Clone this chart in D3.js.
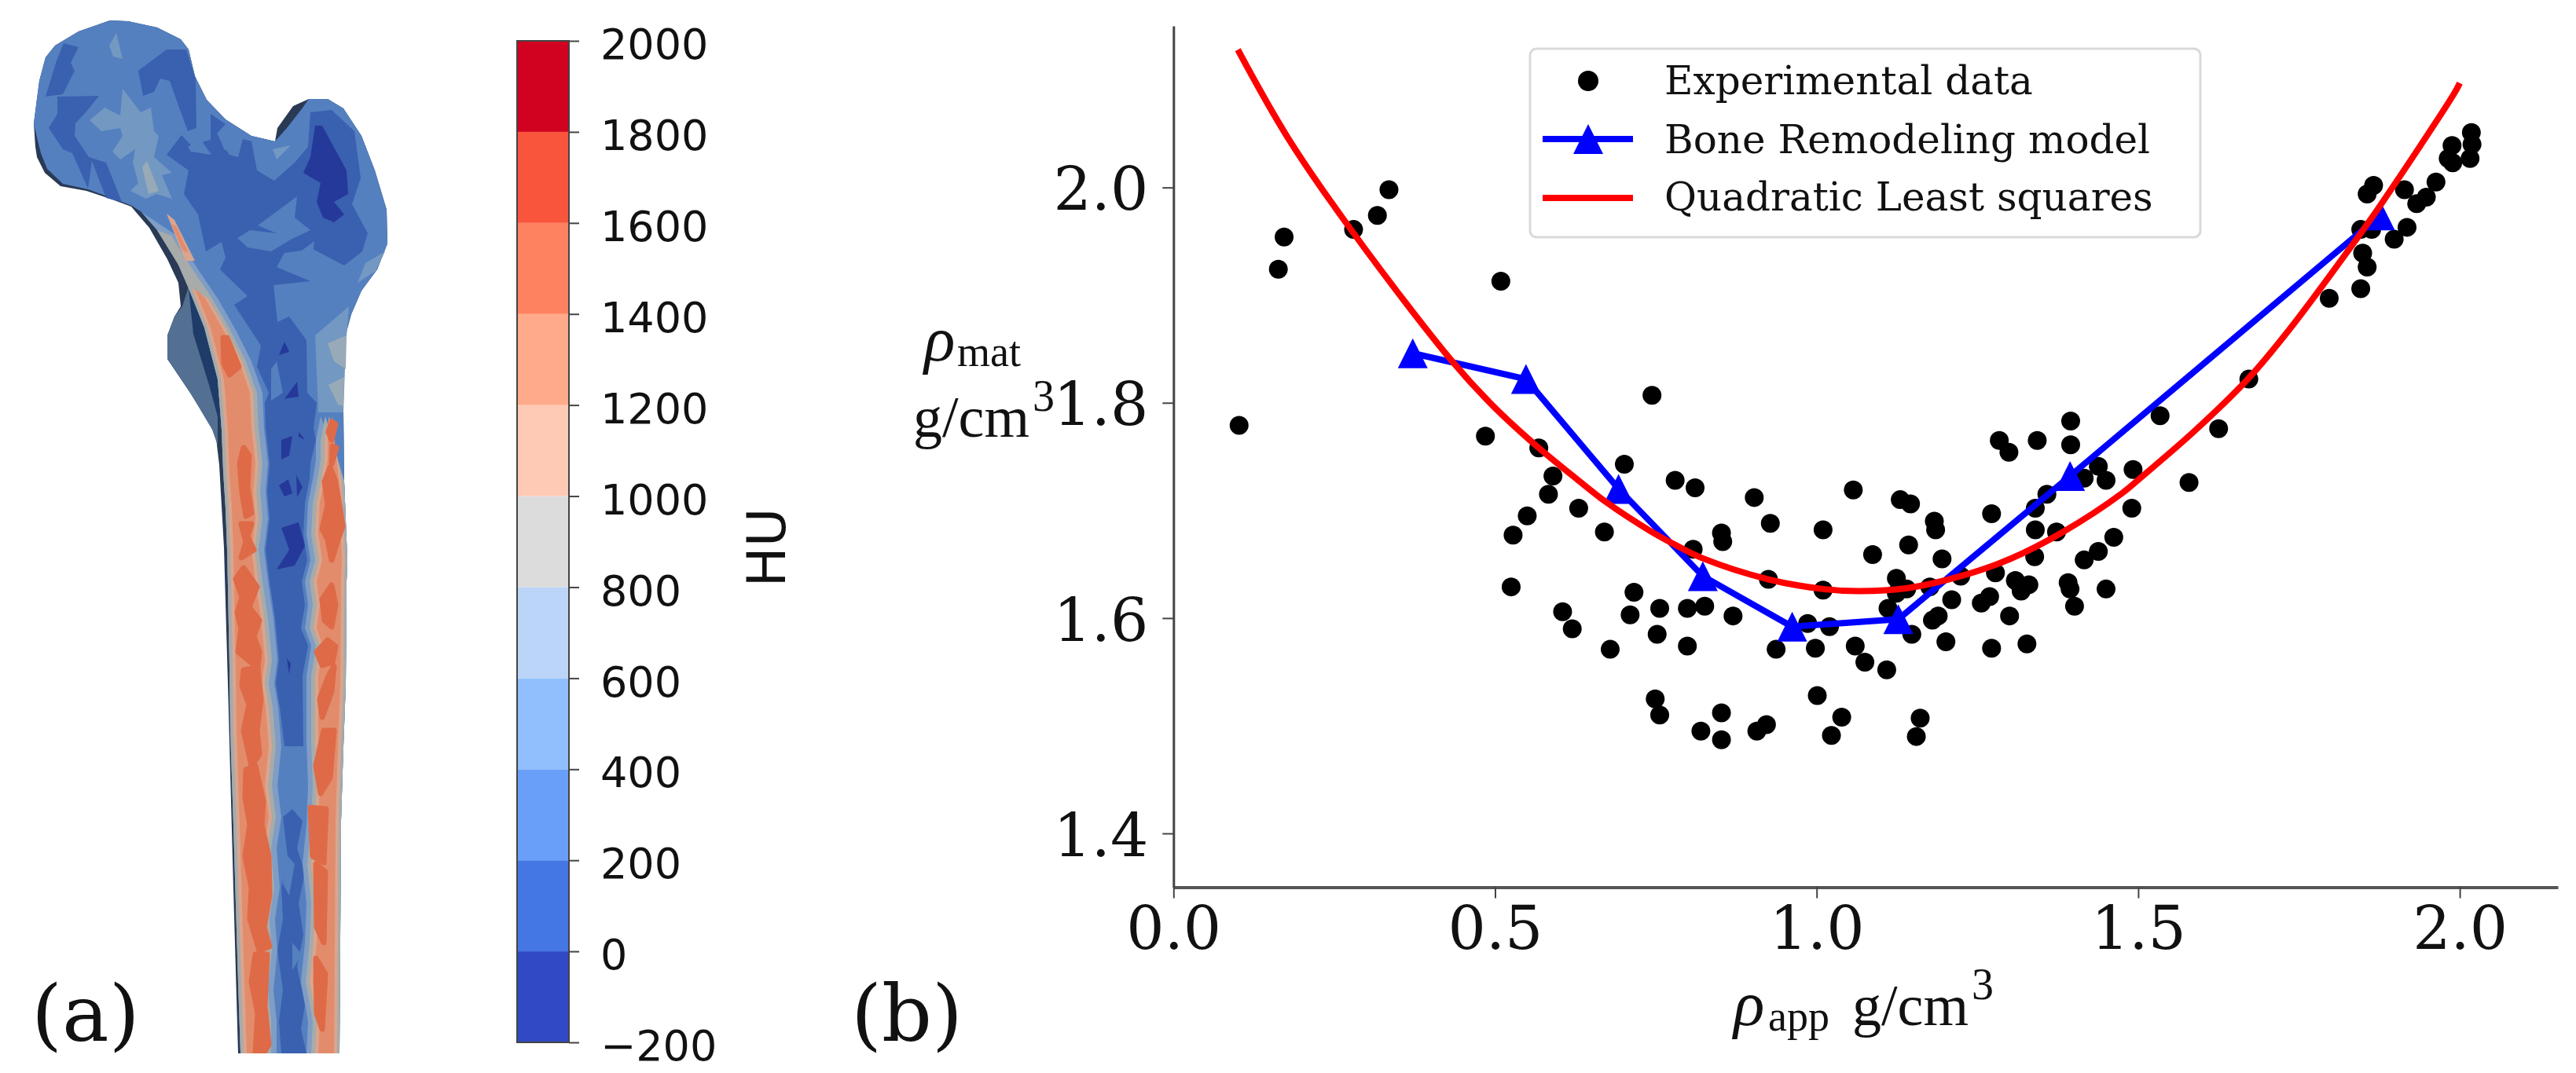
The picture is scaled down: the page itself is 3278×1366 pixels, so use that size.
<!DOCTYPE html>
<html>
<head>
<meta charset="utf-8">
<script src="https://cdn.jsdelivr.net/npm/d3@7"></script>
<style>
  html, body { margin: 0; padding: 0; background: #fff; }
  svg { display: block; filter: blur(0.6px); }
  .serif { font-family: "DejaVu Serif", serif; fill: #111; }
  .math { font-family: "Liberation Serif", serif; fill: #111; }
</style>
</head>
<body>
<svg id="fig" width="3278" height="1366"></svg>
<script>
// scatter
const expX = [0.102,0.163,0.172,0.280,0.317,0.335,0.509,0.485,0.568,0.590,0.583,0.550,0.528,0.630,0.670,0.701,0.525,0.605,0.620,0.679,0.716,0.710,0.744,0.780,0.811,0.903,0.928,1.057,1.130,1.146,1.183,1.185,1.272,1.284,1.299,1.343,1.395,1.395,1.438,1.450,1.416,1.358,1.340,1.340,1.373,1.339,1.462,1.438,1.416,1.278,1.309,1.330,1.318,1.316,1.391,1.394,1.450,1.401,1.269,1.256,1.300,1.327,1.272,1.201,1.210,1.189,1.180,1.148,1.224,1.195,1.143,1.087,1.124,1.140,1.176,1.124,1.111,1.010,0.852,0.854,0.808,0.925,1.010,0.756,0.799,0.826,0.870,0.752,0.799,0.937,0.998,0.986,1.020,1.060,1.075,1.109,0.749,0.756,0.852,0.820,0.852,0.922,0.907,1.001,1.039,1.023,1.161,1.155,1.534,1.672,1.625,1.492,1.579,1.490,1.797,1.846,1.856,1.849,1.846,1.863,1.856,1.866,1.898,1.918,1.914,1.933,1.948,1.963,1.982,1.989,1.988,2.016,2.019,2.018];
const expY = [1.779,1.924,1.954,1.961,1.974,1.998,1.913,1.769,1.758,1.732,1.715,1.695,1.677,1.702,1.680,1.743,1.629,1.606,1.590,1.571,1.624,1.603,1.807,1.728,1.721,1.712,1.688,1.719,1.710,1.706,1.690,1.682,1.697,1.765,1.754,1.765,1.783,1.761,1.741,1.728,1.730,1.715,1.702,1.682,1.680,1.657,1.675,1.662,1.654,1.642,1.635,1.631,1.625,1.631,1.633,1.627,1.627,1.611,1.620,1.614,1.602,1.576,1.572,1.578,1.617,1.602,1.598,1.585,1.639,1.655,1.668,1.659,1.637,1.627,1.629,1.623,1.609,1.682,1.679,1.671,1.664,1.636,1.626,1.609,1.609,1.611,1.602,1.585,1.574,1.571,1.572,1.595,1.592,1.574,1.559,1.552,1.525,1.510,1.512,1.495,1.487,1.501,1.495,1.528,1.508,1.491,1.507,1.490,1.788,1.822,1.776,1.738,1.726,1.702,1.897,1.906,1.926,1.939,1.961,1.961,1.994,2.002,1.952,1.963,1.998,1.985,1.991,2.005,2.027,2.023,2.039,2.027,2.040,2.051];

// bone remodeling model
const modelX = [0.372,0.548,0.692,0.823,0.962,1.127,1.394,1.876];
const modelY = [1.846,1.822,1.720,1.639,1.592,1.599,1.732,1.974];

// red fit, sampled by eye along the curve
const fitX = [0.100,0.177,0.277,0.434,0.497,0.568,0.619,0.672,0.741,0.777,0.821,0.925,1.010,1.066,1.143,1.224,1.301,1.383,1.475,1.507,1.588,1.672,1.735,1.837,1.876,1.992,2.000];
const fitY = [2.128,2.047,1.960,1.838,1.797,1.758,1.733,1.708,1.681,1.669,1.656,1.636,1.627,1.625,1.628,1.639,1.655,1.680,1.716,1.732,1.774,1.823,1.868,1.950,1.983,2.088,2.097];

const xTicks = [0.0,0.5,1.0,1.5,2.0];
const yTicks = [1.4,1.6,1.8,2.0];
const legendLabels = ["Experimental data","Bone Remodeling model","Quadratic Least squares"];

// colour bar
const barLevels = [-200,0,200,400,600,800,1000,1200,1400,1600,1800,2000];
const barColors = ["#2f4ac4","#4476e4","#6a9ff9","#91bffd","#bad5f7","#dcdcdc","#ffcab5","#ffaa8a","#ff8260","#f9553d","#d0021f"];

// ---- femur illustration outlines (pixels), this part is a picture, not data
const silhouette = [[45,187],[43,157],[50,103],[58,73],[70,58],[100,40],[140,26],[163,27],[200,35],[230,50],[240,63],[248,97],[263,127],[287,152],[320,173],[350,180],[353,163],[373,135],[393,126],[417,126],[437,138],[460,173],[477,217],[492,267],[493,310],[480,343],[460,370],[447,400],[438,433],[437,500],[437,523],[438,613],[442,713],[441,740],[440,871],[437,950],[434,1045],[432,1341],[303,1341],[297,1132],[290,871],[285,697],[279,592],[274,549],[242,500],[213,457],[213,427],[222,403],[230,390],[227,360],[213,330],[190,290],[167,263],[140,253],[110,243],[77,237],[57,220],[47,200]];
const faceLeft = [[180,270],[200,293],[227,337],[240,367],[260,417],[277,483],[282,547],[284,600],[287,647],[289,700],[290,747],[292,850],[293,930],[297,1050],[300,1150],[303,1250],[306,1341]];
const faceRight = [[437,500],[437,523],[438,613],[442,713],[441,740],[440,871],[437,950],[434,1045],[432,1341]];
const faceTop = [[47,175],[43,157],[50,103],[58,73],[70,58],[100,40],[140,26],[163,27],[200,35],[230,50],[240,63],[248,97],[263,127],[287,152],[320,173],[350,180],[365,163],[383,140],[393,126],[417,126],[437,138],[460,173],[477,217],[492,267],[493,310],[480,343],[460,370],[447,400],[438,433]];
const faceBottom = [[52,195],[60,215],[80,234],[112,241],[142,252],[168,262]];
const innerL = [[205,262],[225,300],[250,340],[277,380],[300,420],[320,460],[334,500],[336,545],[341,590],[338,625],[341,660],[336,700],[341,740],[348,787],[353,840],[349,870],[354,900],[358,950],[353,1000],[358,1040],[352,1080],[356,1130],[350,1170],[353,1210],[348,1260],[352,1300],[352,1341]];
const innerR = [[408,530],[402,560],[402,585],[398,610],[392,640],[390,680],[395,713],[388,740],[392,770],[388,800],[396,822],[390,860],[390,945],[392,1000],[390,1050],[385,1100],[390,1150],[388,1200],[383,1250],[392,1300],[390,1341]];

const darkBlue = [
  [[212,197],[231,172],[243,185],[268,178],[268,145],[287,158],[276,170],[292,197],[303,200],[309,177],[320,180],[327,217],[349,230],[375,207],[392,187],[395,143],[422,140],[451,167],[459,227],[448,260],[468,297],[461,320],[438,338],[398,317],[362,322],[352,340],[395,358],[348,363],[353,410],[368,403],[390,433],[391,500],[403,513],[399,545],[402,560],[395,590],[394,610],[388,640],[386,680],[391,713],[384,740],[388,770],[383,800],[392,822],[385,860],[386,950],[362,950],[356,900],[351,870],[355,840],[350,787],[343,740],[338,700],[343,660],[340,625],[343,590],[338,545],[337,513],[342,500],[327,467],[332,440],[298,388],[315,377],[280,343],[287,328],[282,308],[262,320],[252,273],[234,247],[240,217]],
  [[360,1040],[372,1030],[385,1045],[378,1080],[388,1110],[380,1150],[386,1190],[378,1230],[388,1280],[383,1310],[390,1341],[358,1341],[355,1300],[360,1260],[353,1210],[360,1170],[358,1130],[366,1090]],
  [[58,123],[71,80],[81,55],[100,60],[90,80],[95,90],[80,120]],
  [[73,123],[126,122],[110,142],[96,157],[95,173],[113,200],[135,207],[155,257],[135,252],[117,205],[112,240],[92,195],[80,190],[62,163],[73,145]],
  [[176,90],[212,63],[237,63],[249,100],[250,163],[239,167],[229,140],[216,103],[204,100],[196,117],[182,122]]
];
const midBlue = [
  [[302,303],[318,293],[352,297],[328,287],[378,250],[375,277],[395,293],[370,305],[345,320],[315,315]],
  [[239,187],[255,177],[269,197],[243,193]],
  [[277,170],[295,165],[303,200],[285,190]],
  [[380,322],[400,307],[398,325]],
  [[345,470],[352,460],[360,500],[345,510]],
  [[362,1085],[375,1100],[368,1140],[360,1125]],
  [[372,1200],[384,1215],[372,1235]]
];
const lightBlue = [
  [[114,153],[133,137],[153,147],[156,113],[179,143],[192,137],[196,167],[202,173],[196,200],[219,220],[206,223],[219,253],[199,247],[186,253],[166,243],[176,233],[169,207],[172,190],[153,203],[143,193],[156,173],[153,163],[129,167]],
  [[139,58],[148,42],[156,75],[144,72]],
  [[347,190],[370,185],[352,203]],
  [[401,427],[444,390],[440,440],[437,525],[405,525]],
  [[465,335],[490,320],[478,345],[455,360]]
];
const grayBlue = [
  [[181,213],[187,205],[202,243],[189,247]],
  [[417,437],[441,427],[440,470],[425,460]],
  [[418,490],[438,480],[437,517],[430,515]]
];
const darkest = [
  [[401,160],[410,160],[441,217],[443,247],[425,257],[438,273],[425,283],[411,277],[403,257],[408,233],[386,220],[395,200]],
  [[355,452],[362,435],[368,448]],
  [[358,560],[372,555],[368,580],[358,585]],
  [[362,508],[378,486],[380,505],[366,507]],
  [[355,618],[367,610],[372,628],[362,632]],
  [[380,550],[388,560],[380,556]],
  [[377,605],[385,620],[378,633]],
  [[358,672],[380,665],[388,695],[375,720],[352,725],[368,700]],
  [[365,838],[370,845],[368,858]]
];
const salmonDark = [
  [[284,430],[289,430],[304,467],[292,477],[285,463]],
  [[310,570],[317,580],[315,620],[320,653],[313,657],[308,627],[305,590]],
  [[307,667],[320,667],[315,683],[323,700],[307,710],[313,690]],
  [[310,723],[327,747],[317,773],[330,790],[323,810],[330,830],[328,850],[303,830],[307,800],[302,780],[308,760],[300,737]],
  [[310,853],[328,850],[332,890],[327,930],[330,960],[320,975],[310,930],[317,897],[308,873]],
  [[313,980],[325,975],[335,1020],[333,1050],[342,1090],[343,1140],[336,1180],[343,1205],[330,1210],[318,1170],[320,1130],[312,1090],[318,1050],[312,1015]],
  [[325,1215],[340,1215],[337,1280],[342,1330],[335,1341],[325,1341],[328,1290],[320,1250]],
  [[422,537],[427,540],[422,560],[418,550]],
  [[423,568],[428,570],[422,590]],
  [[420,595],[427,613],[432,643],[436,670],[430,687],[422,713],[417,687],[410,673],[417,643],[413,613]],
  [[422,745],[427,770],[422,798],[413,790],[410,763]],
  [[417,815],[427,823],[423,843],[410,847],[403,830]],
  [[425,848],[422,880],[410,913],[407,890],[417,863]],
  [[412,930],[425,930],[420,990],[408,1010],[402,975]],
  [[395,1028],[415,1030],[412,1098],[398,1090]],
  [[402,1100],[414,1110],[412,1200],[403,1180]],
  [[402,1220],[414,1240],[410,1310],[403,1290]]
];
const sideShade = [[213,427],[222,403],[232,390],[240,365],[255,420],[277,483],[277,567],[270,547],[242,500],[213,457]];
const sideDark = [[240,367],[260,417],[277,483],[281,545],[266,490],[246,425]];

const svg = d3.select("#fig");
const polyline = d3.line();

// ---- panel (a)
const femur = svg.append("g").attr("class", "femur");

function shiftX(pts, dx) { return pts.map(p => [p[0] + dx, p[1]]); }
function band(left, right, yMin) {
  const l = left.filter(p => p[1] >= yMin);
  const r = right.filter(p => p[1] >= yMin);
  return l.concat(r.slice().reverse());
}
function fillPolys(polys, color, grow) {
  femur.append("g").selectAll("path").data(polys).join("path")
    .attr("d", d => polyline(d) + "Z")
    .attr("fill", color)
    .attr("stroke", grow ? color : "none")
    .attr("stroke-width", grow || 0)
    .attr("stroke-linejoin", "round");
}

fillPolys([silhouette], "#2a3a55");
fillPolys([sideShade], "#536f92");
fillPolys([sideDark], "#1f3c69");
const face = faceBottom.concat(faceLeft, faceRight.slice().reverse(), faceTop.slice().reverse());
fillPolys([face], "#5480c0");
fillPolys(darkBlue, "#3a60b0");
fillPolys(midBlue, "#5480c0");
fillPolys(lightBlue, "#7398c2");
fillPolys(grayBlue, "#98aab8");
fillPolys(darkest, "#25399a");

// cortical bands, left then right, each colour a shifted copy of the contour
fillPolys([band(faceLeft, shiftX(innerL, 0), 264)], "#7f9dc5");
fillPolys([band(faceLeft, shiftX(innerL, -7), 275)], "#a7aba9");
fillPolys([band(shiftX(faceLeft, 4), shiftX(innerL, -12), 345)], "#d9a58f");
fillPolys([band(shiftX(faceLeft, 8), shiftX(innerL, -16), 360)], "#e28c6c");
fillPolys([[[212,272],[222,280],[248,332],[236,332]]], "#d9a58f");
fillPolys([[[218,285],[224,288],[240,322],[232,318]]], "#e28c6c");
fillPolys([band(shiftX(innerR, 0), faceRight, 530)], "#7f9dc5");
fillPolys([band(shiftX(innerR, 6), faceRight, 530)], "#a7aba9");
fillPolys([band(shiftX(innerR, 11), shiftX(faceRight, -3), 530)], "#d9a58f");
fillPolys([band(shiftX(innerR, 15), shiftX(faceRight, -7), 530)], "#e28c6c");
fillPolys(salmonDark, "#df6a47", 7);

femur.append("rect").attr("x", 280).attr("y", 1341).attr("width", 170).attr("height", 25).attr("fill", "#fff");

// colour bar
const barTop = 52, barBottom = 1327, barLeft = 658, barRight = 724;
const barScale = d3.scaleLinear().domain([-200, 2000]).range([barBottom, barTop]);
const bar = svg.append("g");
bar.selectAll("rect").data(barColors).join("rect")
  .attr("x", barLeft)
  .attr("width", barRight - barLeft)
  .attr("y", (d, i) => barScale(barLevels[i + 1]))
  .attr("height", (d, i) => barScale(barLevels[i]) - barScale(barLevels[i + 1]))
  .attr("fill", d => d);
bar.append("rect")
  .attr("x", barLeft).attr("y", barTop)
  .attr("width", barRight - barLeft).attr("height", barBottom - barTop)
  .attr("fill", "none").attr("stroke", "#444").attr("stroke-width", 2);

const barAxis = svg.append("g")
  .attr("transform", `translate(${barRight},0)`)
  .call(d3.axisRight(barScale).tickValues(barLevels).tickSize(13).tickPadding(27).tickFormat(d3.format("d")));
barAxis.select(".domain").remove();
barAxis.selectAll("line").attr("stroke", "#444").attr("stroke-width", 2);
barAxis.selectAll("text")
  .attr("dy", "0.42em")
  .style("font-family", '"DejaVu Sans", sans-serif').style("font-size", "54px").attr("fill", "#111");

svg.append("text")
  .attr("transform", "translate(999,697) rotate(-90)")
  .attr("text-anchor", "middle")
  .style("font-family", '"DejaVu Sans", sans-serif').style("font-size", "68px").attr("fill", "#111")
  .text("HU");

svg.append("text").attr("class", "serif").attr("x", 40).attr("y", 1325).style("font-size", "100px").text("(a)");
svg.append("text").attr("class", "serif").attr("x", 1083).attr("y", 1325).style("font-size", "100px").text("(b)");

// ---- panel (b)
const xScale = d3.scaleLinear().domain([0, 2.1526]).range([1493.3, 3255]);
const yScale = d3.scaleLinear().domain([1.35, 2.15]).range([1129.5, 33.1]);

const xAxisG = svg.append("g")
  .attr("transform", `translate(0,${yScale(1.35)})`)
  .call(d3.axisBottom(xScale).tickValues(xTicks).tickSize(14).tickSizeOuter(0).tickPadding(11).tickFormat(d3.format(".1f")));
xAxisG.select(".domain").attr("stroke", "#555").attr("stroke-width", 4);
xAxisG.selectAll("line").attr("stroke", "#444").attr("stroke-width", 2);

const yAxisG = svg.append("g")
  .attr("transform", `translate(${xScale(0)},0)`)
  .call(d3.axisLeft(yScale).tickValues(yTicks).tickSize(14).tickSizeOuter(0).tickPadding(18).tickFormat(d3.format(".1f")));
yAxisG.select(".domain").attr("stroke", "#444").attr("stroke-width", 3);
yAxisG.selectAll("line").attr("stroke", "#444").attr("stroke-width", 2);
yAxisG.selectAll("text").attr("dy", "0.37em");

[xAxisG, yAxisG].forEach(g => g.selectAll("text")
  .style("font-family", '"DejaVu Serif", serif').style("font-size", "76px").attr("fill", "#111"));

const dotR = 12;
const lineW = 8;
const tri = `M0,-19L19,19L-19,19Z`;

svg.append("g").selectAll("circle").data(expX).join("circle")
  .attr("cx", d => xScale(d))
  .attr("cy", (d, i) => yScale(expY[i]))
  .attr("r", dotR)
  .attr("fill", "#000");

const makeLine = d3.line().x(d => xScale(d[0])).y(d => yScale(d[1]));
svg.append("path")
  .attr("d", makeLine(d3.zip(modelX, modelY)))
  .attr("fill", "none").attr("stroke", "#0000ff").attr("stroke-width", lineW);
svg.append("g").selectAll("path").data(d3.zip(modelX, modelY)).join("path")
  .attr("transform", d => `translate(${xScale(d[0])},${yScale(d[1])})`)
  .attr("d", tri).attr("fill", "#0000ff");

svg.append("path")
  .attr("d", makeLine.curve(d3.curveCatmullRom)(d3.zip(fitX, fitY)))
  .attr("fill", "none").attr("stroke", "#ff0000").attr("stroke-width", lineW);

// legend
const legend = svg.append("g");
legend.append("rect")
  .attr("x", 1947).attr("y", 62).attr("width", 853).attr("height", 240).attr("rx", 8)
  .attr("fill", "#fff").attr("fill-opacity", 0.8).attr("stroke", "#d9d9d9").attr("stroke-width", 3);
legend.append("circle").attr("cx", 2021).attr("cy", 103).attr("r", 13).attr("fill", "#000");
legend.append("line").attr("x1", 1963).attr("x2", 2078).attr("y1", 177).attr("y2", 177)
  .attr("stroke", "#0000ff").attr("stroke-width", lineW);
legend.append("path").attr("transform", "translate(2021,177)").attr("d", tri).attr("fill", "#0000ff");
legend.append("line").attr("x1", 1963).attr("x2", 2078).attr("y1", 252).attr("y2", 252)
  .attr("stroke", "#ff0000").attr("stroke-width", lineW);
const legendBase = [120, 195, 268];
legend.selectAll("text").data(legendLabels).join("text")
  .attr("class", "serif")
  .attr("x", 2118)
  .attr("y", (d, i) => legendBase[i])
  .style("font-size", "50px")
  .text(d => d);

// axis titles, mathtext look
function mathLabel(x, y, symbol, sub, subX, unitX, unitY) {
  const t = svg.append("text").attr("class", "math").style("font-size", "82px");
  t.append("tspan").attr("x", x).attr("y", y).style("font-style", "italic").text(symbol);
  t.append("tspan").attr("x", subX).attr("y", y + 7).style("font-size", "54px").text(sub);
  const u = svg.append("text").attr("class", "math").style("font-size", "74px");
  u.append("tspan").attr("x", unitX).attr("y", unitY).text("g/cm");
  u.append("tspan").attr("dy", -33).attr("dx", 4).style("font-size", "56px").text("3");
}
mathLabel(1176, 459, "ρ", "mat", 1218, 1162, 556);
mathLabel(2206, 1305, "ρ", "app", 2250, 2357, 1305);
</script>
</body>
</html>
